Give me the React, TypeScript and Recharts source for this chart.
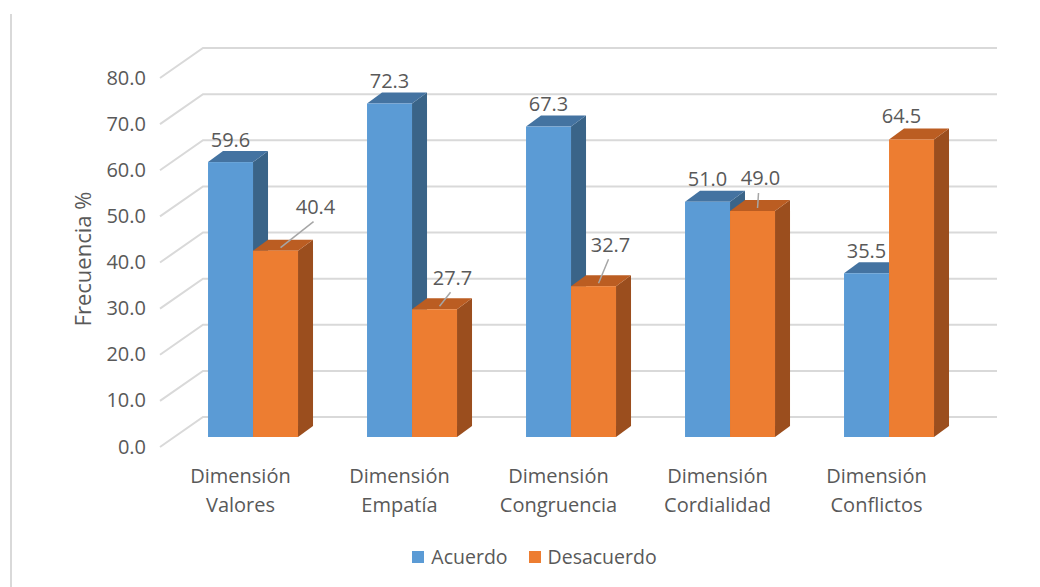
import React from 'react';
import { BarChart, Bar, XAxis, YAxis, CartesianGrid, Legend, LabelList } from 'recharts';

const CATEGORIES = ['Dimensión Valores', 'Dimensión Empatía', 'Dimensión Congruencia', 'Dimensión Cordialidad', 'Dimensión Conflictos'];
const ACUERDO = [59.6, 72.3, 67.3, 51.0, 35.5];
const DESACUERDO = [40.4, 27.7, 32.7, 49.0, 64.5];
const Y_TICKS = [0, 10, 20, 30, 40, 50, 60, 70, 80];

const data = CATEGORIES.map((name, i) => ({ name, acuerdo: ACUERDO[i], desacuerdo: DESACUERDO[i] }));

const FONT = '"Open Sans", sans-serif';
const TEXT = '#595959';
const GRID = '#d9d9d9';
const FS = 20;
const DEPTH_X = 15;
const DEPTH_Y = 11;

// label placement for the orange series (Excel moved some of them by hand)
const ORANGE_NUDGE: [number, number, boolean][] = [
  [40, -44, true],
  [18, -32, true],
  [17, -42, true],
  [8, -33, true],
  [-10, -24, false],
];

const prism = (front: string, top: string, side: string) => (props: any) => {
  const { x, y, width, height } = props;
  const d = DEPTH_X, h = DEPTH_Y;
  return (
    <g>
      <polygon
        points={`${x + width},${y} ${x + width + d},${y - h} ${x + width + d},${y + height - h} ${x + width},${y + height}`}
        fill={side}
      />
      <polygon points={`${x},${y} ${x + d},${y - h} ${x + width + d},${y - h} ${x + width},${y}`} fill={top} />
      <rect x={x} y={y} width={width} height={height} fill={front} />
    </g>
  );
};

const gridLine = (props: any) => {
  const { x1, x2, y1, index } = props;
  return (
    <path
      key={`g-${index}`}
      d={`M${x1 - 14},${y1 + 10} L${x1 + 29},${y1 - 20} L${x2 + 28},${y1 - 20}`}
      stroke={GRID}
      strokeWidth={2}
      fill="none"
    />
  );
};

const YTick = (props: any) => {
  const { y, payload } = props;
  return (
    <text x={146} y={y + 9} textAnchor="end" dominantBaseline="central" fill={TEXT} fontSize={FS} fontFamily={FONT}>
      {Number(payload.value).toFixed(1)}
    </text>
  );
};

const XTick = (props: any) => {
  const { x, y, payload } = props;
  const [a, b] = String(payload.value).split(' ');
  return (
    <text x={x - 13} y={y} textAnchor="middle" fill={TEXT} fontSize={FS} fontFamily={FONT}>
      <tspan x={x - 13} dy={38}>{a}</tspan>
      <tspan x={x - 13} dy={29}>{b}</tspan>
    </text>
  );
};

const blueLabel = (props: any) => {
  const { x, y, width, value } = props;
  return (
    <text x={x + width / 2} y={y - 23} textAnchor="middle" dominantBaseline="central" fill={TEXT} fontSize={FS} fontFamily={FONT}>
      {Number(value).toFixed(1)}
    </text>
  );
};

const orangeLabel = (props: any) => {
  const { x, y, width, value, index } = props;
  const [dx, dy, leader] = ORANGE_NUDGE[index];
  const cx = x + width / 2;
  const lx = cx + dx;
  const ly = y + dy;
  return (
    <g>
      {leader && <line x1={cx + 5} y1={y - 3} x2={lx - 2} y2={ly + 15} stroke="#a6a6a6" strokeWidth={1.5} />}
      <text x={lx} y={ly} textAnchor="middle" dominantBaseline="central" fill={TEXT} fontSize={FS} fontFamily={FONT}>
        {Number(value).toFixed(1)}
      </text>
    </g>
  );
};

const LegendBox = () => (
  <div style={{ display: 'flex', justifyContent: 'center', alignItems: 'center', paddingLeft: 29, fontFamily: FONT, fontSize: 19.5, color: TEXT }}>
    <span style={{ width: 12, height: 12, background: '#5b9bd5', display: 'inline-block', marginRight: 7 }} />
    <span style={{ marginRight: 21 }}>Acuerdo</span>
    <span style={{ width: 12, height: 12, background: '#ed7d31', display: 'inline-block', marginRight: 7 }} />
    <span>Desacuerdo</span>
  </div>
);

export default function App() {
  return (
    <div style={{ position: 'absolute', left: 0, top: 0, width: 1040, height: 587, background: '#fff', fontFamily: FONT }}>
      <div style={{ position: 'absolute', left: 10, top: 14, width: 2, height: 573, background: GRID }} />
      <BarChart
        width={1040}
        height={587}
        data={data}
        margin={{ top: 68, right: 71, bottom: 50, left: 114 }}
        barCategoryGap="21.4%"
        barGap={0}
      >
        <CartesianGrid vertical={false} horizontal={gridLine} />
        <XAxis dataKey="name" axisLine={false} tickLine={false} height={100} tick={<XTick />} interval={0} />
        <YAxis
          domain={[0, 80]}
          ticks={Y_TICKS}
          axisLine={false}
          tickLine={false}
          width={60}
          tick={<YTick />}
          label={{
            content: () => (
              <text
                x={82}
                y={259}
                transform="rotate(-90 82 259)"
                textAnchor="middle"
                dominantBaseline="central"
                fill={TEXT}
                fontSize={22}
                fontFamily={FONT}
              >
                Frecuencia %
              </text>
            ),
          }}
        />
        <Legend
          layout="horizontal"
          verticalAlign="middle"
          align="center"
          wrapperStyle={{ top: 543, left: 0, width: 1040 }}
          content={<LegendBox />}
        />
        <Bar dataKey="acuerdo" name="Acuerdo" fill="#5b9bd5" isAnimationActive={false} shape={prism('#5b9bd5', '#4473a1', '#3a6488')}>
          <LabelList dataKey="acuerdo" content={blueLabel} />
        </Bar>
        <Bar dataKey="desacuerdo" name="Desacuerdo" fill="#ed7d31" isAnimationActive={false} shape={prism('#ed7d31', '#bb5d22', '#9b4e1e')}>
          <LabelList dataKey="desacuerdo" content={orangeLabel} />
        </Bar>
      </BarChart>
    </div>
  );
}
